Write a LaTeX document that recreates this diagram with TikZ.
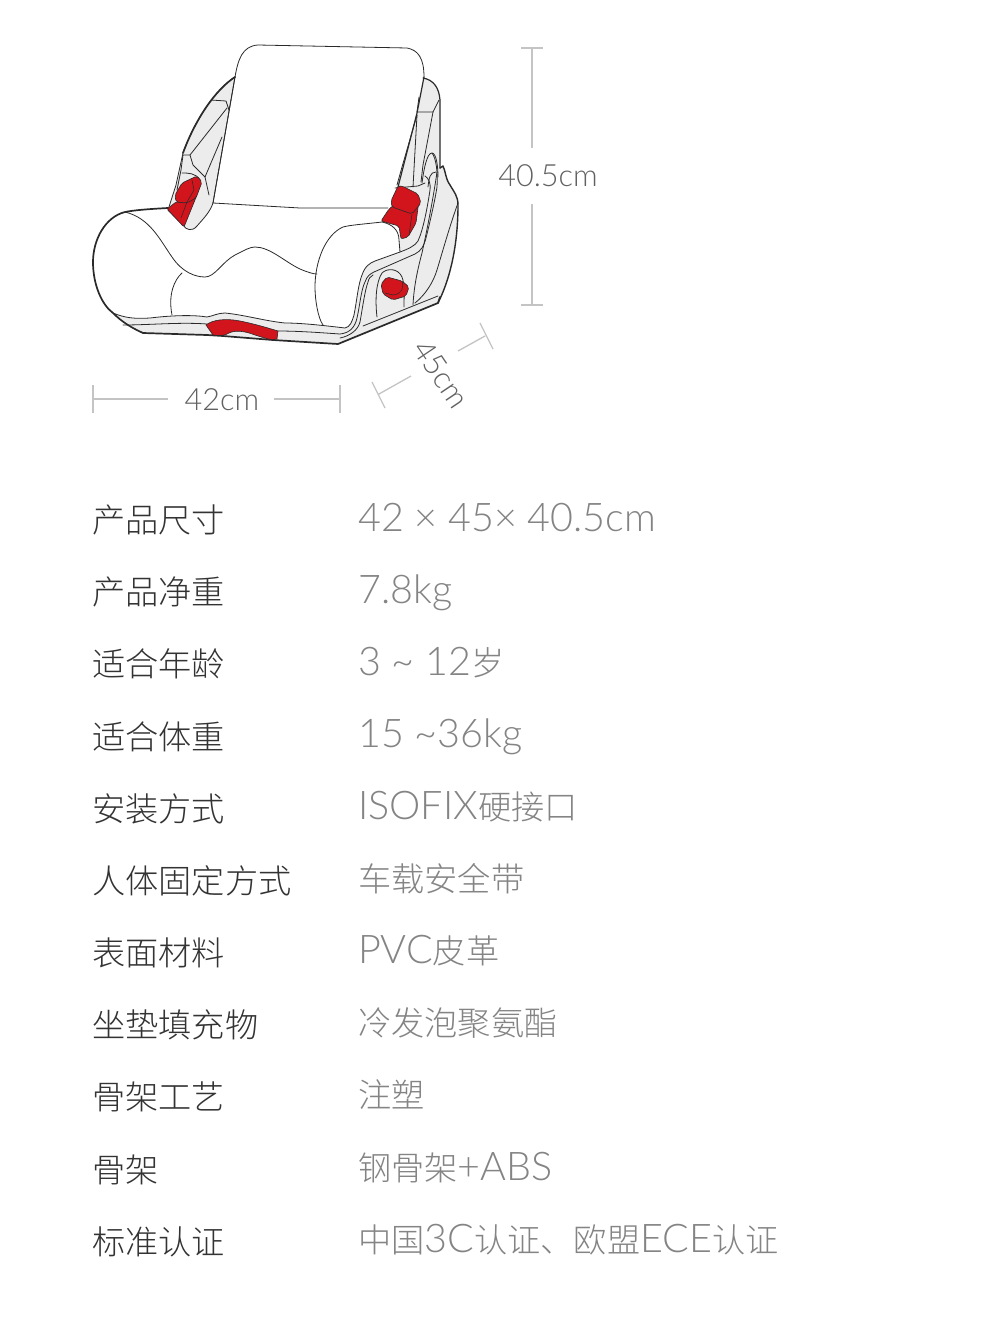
\documentclass[tikz,border=0pt]{standalone}
\usepackage{fontspec}
\setmainfont{Lato Light}
\newfontfamily\cj{Noto Sans CJK SC Light}
\definecolor{pad}{HTML}{ECECEC}
\definecolor{ink}{HTML}{2A2A2A}
\definecolor{seatred}{HTML}{D2141C}
\definecolor{dimc}{HTML}{C4C4C4}
\definecolor{lab}{HTML}{333333}
\definecolor{val}{HTML}{848484}
\newcommand{\zh}[1]{{\cj\fontsize{33.2}{33.2}\selectfont #1}}
\tikzset{
  thin line/.style={draw=ink,line width=0.8pt,line join=round,line cap=round},
  thick line/.style={draw=ink,line width=1.7pt,line join=round,line cap=round},
  redpart/.style={fill=seatred,draw=ink,line width=0.6pt,line join=round,rounded corners=2pt},
  dimline/.style={draw=dimc,line width=1.3pt},
  dimtext/.style={text=black!62,font=\fontsize{30.6}{30.6}\selectfont,inner sep=0pt},
  rowlab/.style={anchor=base west,inner sep=0pt,text=lab,font=\cj\fontsize{33.2}{33.2}\selectfont},
  rowval/.style={anchor=base west,inner sep=0pt,text=val,font=\fontsize{39.5}{39.5}\selectfont},
}
\begin{document}
\begin{tikzpicture}[x=1pt,y=-1pt]
\useasboundingbox (0,0) rectangle (1000,1333);
\fill[white] (0,0) rectangle (1000,1333);
% grey body
\fill[pad] (423,78) .. controls (434,80) and (439,88) .. (440,100) -- (440,168) -- (443,166)
  .. controls (446,172) and (445,178) .. (450,185) .. controls (454,192) and (458,196) .. (458,205)
  .. controls (458,240) and (452,275) .. (438,303)
  -- (338,344) -- (273,340) -- (223,336) -- (143,333) -- (113,313) -- (400,240) -- (395,190) -- cycle;
% white seat
\fill[white] (168,208) .. controls (150,209) and (135,210) .. (125,212) .. controls (105,217) and (93,240) .. (93,262)
  .. controls (93,285) and (102,305) .. (113,313)
  .. controls (125,318) and (135,319) .. (150,318) .. controls (175,315) and (195,315) .. (207,317)
  .. controls (213,316) and (218,313) .. (225,313) .. controls (245,315) and (265,321) .. (285,323)
  .. controls (300,323) and (320,325) .. (345,328) .. controls (350,327) and (352,322) .. (354,315)
  .. controls (357,300) and (358,285) .. (362,275) .. controls (365,266) and (370,263) .. (375,261) -- (400,252)
  -- (399,235) -- (388,208) -- (213,203) -- cycle;
% white back
\fill[white] (235,77) .. controls (238,60) and (242,46) .. (258,45) -- (407,48)
  .. controls (418,50) and (424,58) .. (424,77) -- (417,113) -- (398,187) -- (388,208) -- (213,203) -- cycle;
% left wing
\fill[pad,draw=ink,line width=.8pt,line join=round] (235,77) .. controls (215,90) and (195,120) .. (183,153)
  -- (176,185) -- (168,210) -- (183,225) .. controls (186,230) and (192,232) .. (197,226)
  .. controls (204,218) and (210,212) .. (213,203) -- cycle;
\draw[thick line] (235,77) .. controls (215,90) and (195,120) .. (183,153);
\draw[thin line] (211,100) -- (226,101) -- (229,110);
\draw[thin line] (227,108) -- (190,155) -- (183,155) -- (181,170) -- (177,190);
\draw[thin line] (190,155) -- (193,165) -- (205,177) -- (209,195);
\draw[thin line] (222,137) -- (205,177);
\draw[thin line] (182,173) .. controls (188,173) and (196,173) .. (200,180);
% back rest outline
\draw[thin line] (213,203) -- (235,77) .. controls (238,60) and (242,46) .. (258,45) -- (407,48)
  .. controls (418,50) and (424,58) .. (424,77);
\draw[thick line,line width=1.2pt] (424,77) -- (417,113) -- (398,187);
\draw[thin line] (213,203) -- (300,208) -- (388,208);
% seat
\draw[thick line] (168,208) .. controls (150,209) and (135,210) .. (125,212) .. controls (105,217) and (93,240) .. (93,262)
  .. controls (93,285) and (102,305) .. (113,313) .. controls (122,322) and (132,328) .. (143,333);
\draw[thin line] (125,212) .. controls (150,218) and (160,240) .. (172,257) .. controls (182,272) and (195,277) .. (205,277)
  .. controls (215,277) and (222,262) .. (235,255) .. controls (245,250) and (250,247) .. (255,247)
  .. controls (270,247) and (285,262) .. (300,269) .. controls (307,272) and (313,274) .. (317,274);
\draw[thin line] (182,273) .. controls (174,280) and (168,295) .. (172,315);
\draw[thin line] (382,222) .. controls (365,224) and (350,225) .. (343,227) .. controls (325,235) and (315,262) .. (315,287)
  .. controls (315,300) and (318,318) .. (323,325);
\draw[thin line] (382,222) .. controls (392,224) and (399,230) .. (399,240) -- (400,252);
% band lines
\draw[thin line] (113,313) .. controls (125,318) and (135,319) .. (150,318) .. controls (175,315) and (195,315) .. (207,317)
  .. controls (213,316) and (218,313) .. (225,313) .. controls (245,315) and (265,321) .. (285,323)
  .. controls (300,323) and (320,325) .. (345,328) .. controls (350,327) and (352,322) .. (354,315)
  .. controls (357,300) and (358,285) .. (362,275) .. controls (365,266) and (370,263) .. (375,261) -- (400,252)
  .. controls (408,249) and (415,246) .. (418,241) .. controls (423,230) and (427,210) .. (430,190)
  .. controls (431,182) and (428,178) .. (425,176);
\draw[thin line] (123,325) .. controls (150,325) and (180,322) .. (207,324);
\draw[thin line] (278,331) .. controls (300,331) and (325,333) .. (340,334) .. controls (350,333) and (355,327) .. (357,318)
  .. controls (360,305) and (361,290) .. (365,282) .. controls (367,276) and (370,274) .. (374,272) -- (415,254)
  .. controls (421,251) and (424,246) .. (426,238) .. controls (430,222) and (435,200) .. (437,187)
  .. controls (438,172) and (436,158) .. (432,153);
\draw[thin line] (340,338) .. controls (350,336) and (358,330) .. (360,322) .. controls (363,305) and (365,290) .. (368,282) .. controls (369,278) and (370,277) .. (373,275);
\draw[thin line] (363,326) -- (438,296);
\draw[thick line] (143,333) -- (207,335) -- (223,336) -- (273,340) -- (338,344) -- (438,303) -- (440,297);
\draw[thick line,line width=1.4pt] (438,303) .. controls (452,275) and (458,240) .. (458,205)
  .. controls (458,196) and (454,192) .. (450,185) .. controls (445,178) and (446,172) .. (443,166) -- (440,168);
\draw[thick line,line width=1.2pt] (423,78) .. controls (434,80) and (439,88) .. (440,100) -- (440,168);
% right details
\draw[thin line] (419,97) -- (417,112) -- (433,112) -- (439,100);
\draw[thin line] (417,115) -- (402,167) -- (397,185);
\draw[thin line] (417,115) -- (413,187);
\draw[thin line] (433,112) -- (423,165) -- (421,182);
\draw[thin line] (422,183) .. controls (424,168) and (427,153) .. (432,153) .. controls (436,153) and (438,165) .. (438,177);
\draw[thin line] (428,187) .. controls (429,178) and (430,172) .. (436,172);
\draw[thin line] (413,305) .. controls (414,285) and (418,268) .. (422,253) .. controls (427,230) and (433,200) .. (437,172);
\draw[thin line] (415,303) .. controls (425,295) and (433,283) .. (437,270) .. controls (443,250) and (450,225) .. (458,203);
\draw[thin line] (377,317) .. controls (375,300) and (376,282) .. (382,273) .. controls (387,268) and (398,268) .. (402,277) .. controls (405,285) and (404,295) .. (404,307);
\draw[thin line] (395,188) -- (418,186) -- (425,183);
% red parts
\draw[redpart] (381,221) -- (389,209) -- (394,205) -- (412,212) -- (419,200) -- (416,223) -- (408,237) -- (401,239) -- (399,226) -- cycle;
\draw[redpart] (398,186) -- (402,186) -- (418,194) -- (421,203) -- (412,214) -- (392,207) -- (391,201) -- cycle;
\draw[redpart] (381,284) -- (387,277) -- (402,281) -- (409,287) -- (406,296) -- (393,300) -- (383,294) -- cycle;
\draw[ink,line width=.5pt] (402,281) .. controls (404,288) and (402,294) .. (393,295) -- (385,293);
\draw[ink,line width=.5pt] (412,214) -- (409,235);
\draw[redpart] (167,209) -- (176,202) -- (187,199) -- (197,195) -- (184,227) -- cycle;
\draw[redpart] (175,195) -- (182,183) -- (197,176) -- (202,182) -- (196,198) -- (187,203) -- (176,202) -- cycle;
\draw[ink,line width=.5pt] (192,180) -- (194,190) -- (187,202) -- (181,218);
\fill[seatred,draw=ink,line width=.6pt,line join=round] (206,325) .. controls (212,320) and (225,318) .. (240,321)
  .. controls (255,324) and (268,328) .. (278,331) -- (277,339)
  .. controls (272,341) and (265,338) .. (255,335) .. controls (245,331) and (235,330) .. (229,333)
  .. controls (225,336) and (218,336) .. (213,335) -- cycle;
% dimensions
\draw[dimline] (93,385) -- (93,413) (93,399) -- (168,399);
\draw[dimline] (274,399) -- (340,399) (340,385) -- (340,413);
\draw[dimline] (521,48) -- (543,48) (532,48) -- (532,148);
\draw[dimline] (532,204) -- (532,305) (521,305) -- (543,305);
\draw[dimline] (480,323) -- (493,349) (485,336) -- (458,351);
\draw[dimline] (372,382) -- (385,408) (379,394) -- (411,376);
\node[dimtext] (d42) at (222,400) {42cm};
\node[dimtext] (d405) at (548,176) {40.5cm};
\node[dimtext,rotate=-56] (d45) at (441,374) {45cm};
% rows
\node[rowlab] (l1) at (92,532) {产品尺寸};
\node[rowlab] (l2) at (92,604) {产品净重};
\node[rowlab] (l3) at (92,676) {适合年龄};
\node[rowlab] (l4) at (92,749) {适合体重};
\node[rowlab] (l5) at (92,821) {安装方式};
\node[rowlab] (l6) at (92,893) {人体固定方式};
\node[rowlab] (l7) at (92,965) {表面材料};
\node[rowlab] (l8) at (92,1037) {坐垫填充物};
\node[rowlab] (l9) at (92,1109) {骨架工艺};
\node[rowlab] (l10) at (92,1182) {骨架};
\node[rowlab] (l11) at (92,1254) {标准认证};
\node[rowval] (v1) at (358,531) {42 × 45× 40.5cm};
\node[rowval] (v2) at (358,603) {7.8kg};
\node[rowval] (v3) at (358,675) {3 \textasciitilde{} 12\zh{岁}};
\node[rowval] (v4) at (358,747) {15 \textasciitilde36kg};
\node[rowval] (v5) at (358,819) {ISOFIX\zh{硬接口}};
\node[rowval] (v6) at (358,891) {\zh{车载安全带}};
\node[rowval] (v7) at (358,963) {PVC\zh{皮革}};
\node[rowval] (v8) at (358,1035) {\zh{冷发泡聚氨酯}};
\node[rowval] (v9) at (358,1107) {\zh{注塑}};
\node[rowval] (v10) at (358,1180) {\zh{钢骨架}+ABS};
\node[rowval] (v11) at (358,1252) {\zh{中国}3C\zh{认证、欧盟}ECE\zh{认证}};
\end{tikzpicture}
\end{document}
